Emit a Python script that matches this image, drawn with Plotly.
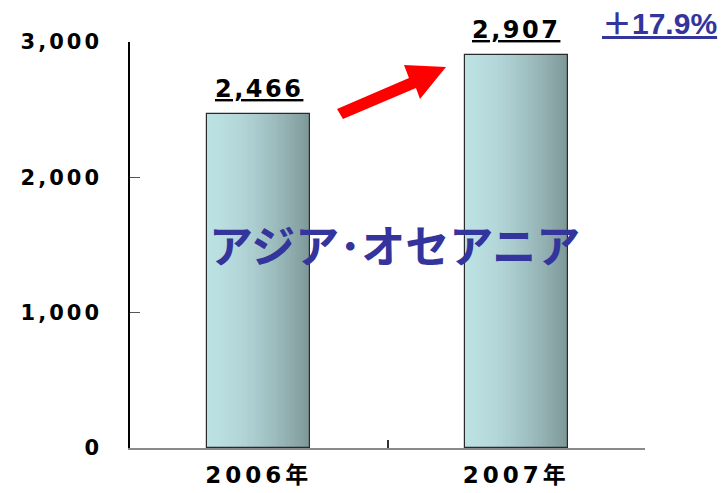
import plotly.graph_objects as go

# Data
years = ["2006年", "2007年"]
values = [2466, 2907]
growth_label = "＋17.9%"
region_label = "アジア･オセアニア"
y_ticks = [0, 1000, 2000, 3000]
y_ticktext = ["0", "1,000", "2,000", "3,000"]

W, H = 722, 493
L, R, T, B = 130, 77, 42, 45
BAR_W = 0.40
NUM_FONT = "DejaVu Sans, Noto Sans CJK JP, sans-serif"
JP_FONT = "Noto Sans CJK JP, sans-serif"
BLUE = "#33349c"


def spaced(s, px):
    return f'<span style="letter-spacing:{px}px">{s}</span>'


def lerp_color(c1, c2, t):
    a = [int(c1[i:i + 2], 16) for i in (1, 3, 5)]
    b = [int(c2[i:i + 2], 16) for i in (1, 3, 5)]
    return "#" + "".join(f"{round(a[k] + (b[k] - a[k]) * t):02x}" for k in range(3))


fig = go.Figure()

# Horizontal gradient fill, built from thin vertical strips of each bar
N = 40
light, dark = "#bce1e3", "#7e9899"
for i in range(N):
    t = i / (N - 1)
    shade = t ** 1.6
    fig.add_trace(go.Bar(
        x=years, y=values,
        width=BAR_W / N * 1.05, offset=-BAR_W / 2 + i * BAR_W / N,
        marker=dict(color=lerp_color(light, dark, shade), line=dict(width=0)),
        hoverinfo="skip", showlegend=False,
    ))

# Bar outlines
fig.add_trace(go.Bar(
    x=years, y=values, width=BAR_W, offset=-BAR_W / 2,
    marker=dict(color="rgba(0,0,0,0)", line=dict(color="#2a2a2a", width=1.2)),
    showlegend=False,
))

# Value labels above the bars
for yr, v in zip(years, values):
    fig.add_annotation(
        x=yr, y=v, xref="x", yref="y", text="<u>" + spaced(f"{v:,}", 2.5) + "</u>",
        showarrow=False, yanchor="bottom", yshift=9,
        font=dict(family=NUM_FONT, size=24, color="#000000", weight="bold"),
    )


def px_to_paper(px, py):
    return (px - L) / (W - L - R), (H - B - py) / (H - T - B)


# Red growth arrow
arrow_px = [(337, 109), (409, 78), (404, 65), (446, 67), (420, 99), (416, 88), (343, 119)]
pts = [px_to_paper(x, y) for x, y in arrow_px]
path = "M " + " L ".join(f"{x:.4f},{y:.4f}" for x, y in pts) + " Z"
fig.add_shape(type="path", xref="paper", yref="paper", path=path,
              fillcolor="#ff0000", line=dict(width=0))

# Growth rate
gx, gy = px_to_paper(659, 24)
fig.add_annotation(
    x=gx, y=gy, xref="paper", yref="paper", text=f"<u>{growth_label}</u>",
    showarrow=False, xanchor="center", yanchor="middle",
    font=dict(family="Liberation Sans, Noto Sans CJK JP, sans-serif", size=30,
              color=BLUE, weight="bold"),
)

# Region name
rx, ry = px_to_paper(394, 244)
fig.add_annotation(
    x=rx, y=ry, xref="paper", yref="paper", text=region_label,
    showarrow=False, xanchor="center", yanchor="middle",
    font=dict(family=JP_FONT, size=44, color=BLUE, weight="bold"),
)

fig.update_layout(
    width=W, height=H,
    margin=dict(l=L, r=R, t=T, b=B, autoexpand=False),
    paper_bgcolor="white", plot_bgcolor="white",
    barmode="overlay", bargap=0,
    showlegend=False,
)
fig.update_xaxes(
    type="category", tickson="boundaries", ticks="inside", ticklen=8,
    tickcolor="#333333", tickwidth=1.5,
    showline=True, linecolor="#8a8a8a", linewidth=2,
    showgrid=False, zeroline=False, automargin=False,
    tickvals=years, ticktext=[spaced(y, 4) for y in years],
    tickfont=dict(family=NUM_FONT, size=23, color="#000000", weight="bold"),
    ticklabelstandoff=5,
)
fig.update_yaxes(
    range=[0, 3000], tickvals=y_ticks, ticktext=[spaced(t, 3) for t in y_ticktext],
    ticks="inside", ticklen=10, tickcolor="#555555", tickwidth=1,
    showline=True, linecolor="#000000", linewidth=1.5,
    showgrid=False, zeroline=False, automargin=False,
    tickfont=dict(family=NUM_FONT, size=21, color="#000000", weight="bold"),
    ticklabelstandoff=22,
)

fig.write_html("out.html")
